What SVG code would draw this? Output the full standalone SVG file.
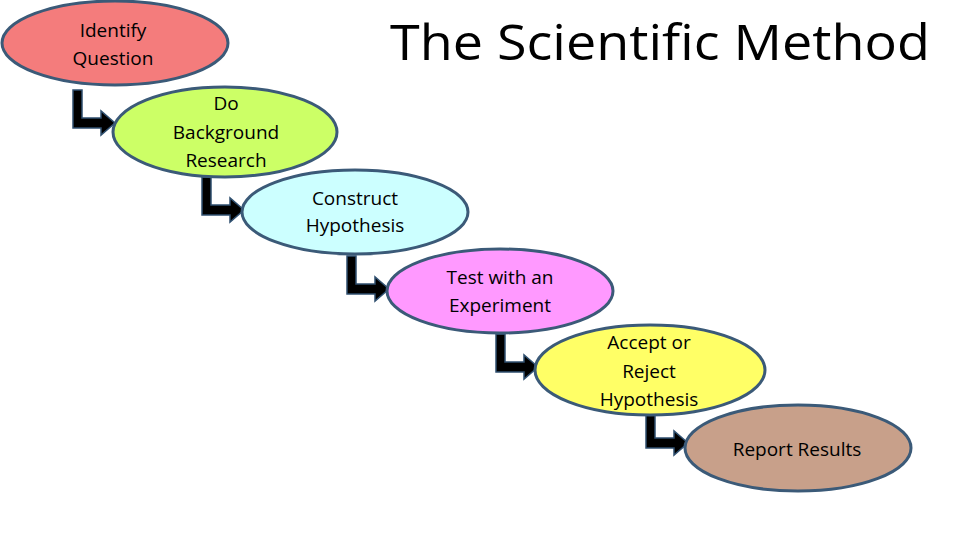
<svg xmlns="http://www.w3.org/2000/svg" width="960" height="540" viewBox="0 0 960 540">
<style>
.n{stroke:#3B5A78;stroke-width:3}
.t{font-family:"Open Sans","Liberation Sans",sans-serif;font-size:19px;fill:#000;text-anchor:middle}
.c{fill:#000;stroke:#2F4F6F;stroke-width:1.5}
</style>
<defs><path id="arr" d="M0 0 H9 V28 H28 V21 L42 33 L28 45 V38 H0 Z"/></defs>
<rect width="960" height="540" fill="#fff"/>
<text x="660" y="60" font-family="Open Sans,Liberation Sans,sans-serif" font-size="50" text-anchor="middle" textLength="540" lengthAdjust="spacingAndGlyphs">The Scientific Method</text>
<g id="connectors" class="c">
<use href="#arr" x="73" y="90"/>
<use href="#arr" x="202" y="177"/>
<use href="#arr" x="347" y="256"/>
<use href="#arr" x="496" y="334"/>
<use href="#arr" x="646" y="410"/>
</g>
<g id="n1"><ellipse class="n" cx="115" cy="43" rx="113" ry="42" fill="#F47C7C"/><text class="t" x="113" y="37">Identify</text><text class="t" x="113" y="65">Question</text></g>
<g id="n2"><ellipse class="n" cx="225" cy="132" rx="112" ry="45" fill="#CCFF66"/><text class="t" x="226" y="110">Do</text><text class="t" x="226" y="139">Background</text><text class="t" x="226" y="167">Research</text></g>
<g id="n3"><ellipse class="n" cx="355" cy="212" rx="113" ry="42" fill="#CCFFFF"/><text class="t" x="355" y="205">Construct</text><text class="t" x="355" y="232">Hypothesis</text></g>
<g id="n4"><ellipse class="n" cx="500" cy="291" rx="113" ry="42" fill="#FF99FF"/><text class="t" x="500" y="284">Test with an</text><text class="t" x="500" y="312">Experiment</text></g>
<g id="n5"><ellipse class="n" cx="650" cy="370" rx="115" ry="45" fill="#FFFF66"/><text class="t" x="649" y="349">Accept or</text><text class="t" x="649" y="378">Reject</text><text class="t" x="649" y="406">Hypothesis</text></g>
<g id="n6"><ellipse class="n" cx="798" cy="448" rx="113" ry="43" fill="#C8A08A"/><text class="t" x="797" y="456">Report Results</text></g>
</svg>
